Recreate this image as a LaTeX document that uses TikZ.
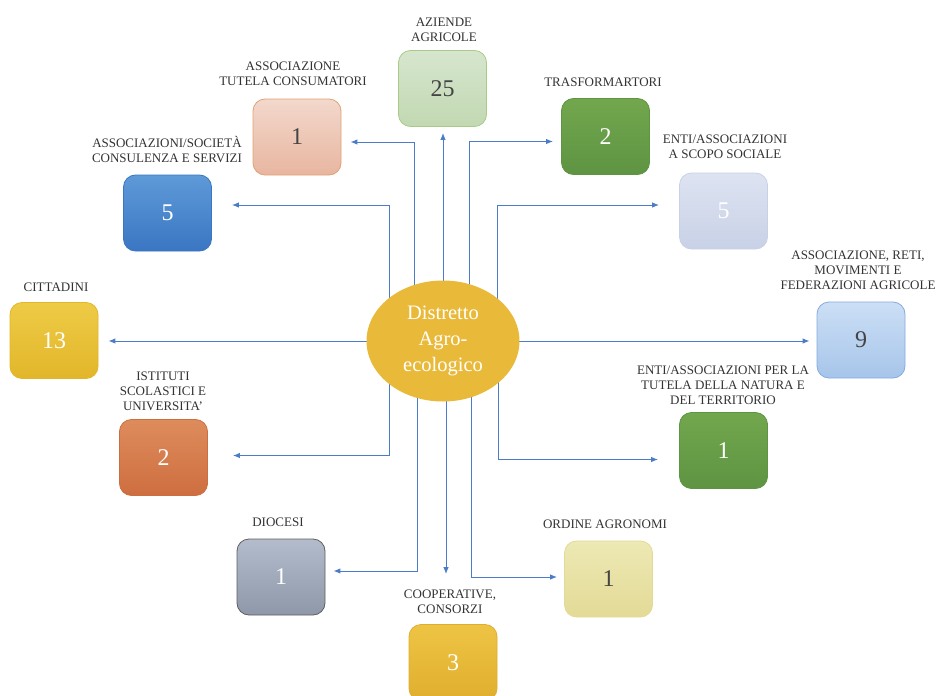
\documentclass[tikz,border=0pt]{standalone}
\usepackage{fontspec}
\setmainfont{Liberation Serif}
\usetikzlibrary{arrows.meta,calc,shapes.geometric}
\pgfdeclarelayer{background}
\pgfsetlayers{background,main}

% palette
\definecolor{hubgold}{HTML}{E9B93A}
\definecolor{connblue}{HTML}{4A7CC8}
\definecolor{labelgray}{HTML}{333333}
\definecolor{numdark}{HTML}{444444}
\definecolor{azTop}{HTML}{D6E6CE}\definecolor{azBot}{HTML}{C2D8B2}\definecolor{azLine}{HTML}{A8CC88}
\definecolor{coTop}{HTML}{F3D8CC}\definecolor{coBot}{HTML}{E8B6A0}\definecolor{coLine}{HTML}{E0A274}
\definecolor{svTop}{HTML}{5E9AD8}\definecolor{svBot}{HTML}{3A76C2}
\definecolor{grTop}{HTML}{72A74E}\definecolor{grBot}{HTML}{5E9442}
\definecolor{soTop}{HTML}{DDE3F1}\definecolor{soBot}{HTML}{C8D1E6}
\definecolor{ciTop}{HTML}{EECB46}\definecolor{ciBot}{HTML}{E2B62A}
\definecolor{isTop}{HTML}{DE8C5C}\definecolor{isBot}{HTML}{CE6E40}
\definecolor{reTop}{HTML}{CCDFF5}\definecolor{reBot}{HTML}{A6C5EA}\definecolor{reLine}{HTML}{84AADE}
\definecolor{diTop}{HTML}{B4BCCC}\definecolor{diBot}{HTML}{8E98A8}\definecolor{diLine}{HTML}{5E5E5E}
\definecolor{cpTop}{HTML}{EEC444}\definecolor{cpBot}{HTML}{E0AE2E}
\definecolor{orTop}{HTML}{EDE9B4}\definecolor{orBot}{HTML}{E3DA96}

\tikzset{
  tile/.style={rounded corners=12pt, minimum width=88pt, minimum height=76pt,
    inner sep=0pt, line width=0.8pt, font=\fontsize{24}{24}\selectfont},
  tag/.style={font=\fontsize{13}{15}\selectfont, text=labelgray, align=center, inner sep=0pt},
  conn/.style={draw=connblue, line width=1pt, -{Latex[length=7pt,width=5.5pt]}},
}

\begin{document}
\begin{tikzpicture}[x=1pt,y=-1pt]
\useasboundingbox (0,0) rectangle (938,696);

% central hub
\node[ellipse, fill=hubgold, minimum width=153pt, minimum height=121pt, inner sep=0pt,
      text=white, align=center, font=\fontsize{20.5}{26}\selectfont] (hub) at (443,341)
      {Distretto\\Agro-\\ecologico};

% member tiles
\node[tile, top color=azTop, bottom color=azBot, draw=azLine, text=numdark] (az) at (442.5,88.5) {25};
\node[tile, top color=coTop, bottom color=coBot, draw=coLine, text=numdark] (cons) at (297,137) {1};
\node[tile, top color=svTop, bottom color=svBot, draw=svBot, text=white] (svc) at (167.5,213) {5};
\node[tile, top color=grTop, bottom color=grBot, draw=grBot, text=white] (trasf) at (605.5,136.5) {2};
\node[tile, top color=soTop, bottom color=soBot, draw=soBot, text=white] (soc) at (723.5,211) {5};
\node[tile, top color=ciTop, bottom color=ciBot, draw=ciBot, text=white] (citt) at (54,340.5) {13};
\node[tile, top color=isTop, bottom color=isBot, draw=isBot, text=white] (ist) at (163.5,457.5) {2};
\node[tile, top color=reTop, bottom color=reBot, draw=reLine, text=numdark] (reti) at (861,340) {9};
\node[tile, top color=grTop, bottom color=grBot, draw=grBot, text=white] (tut) at (723.5,450.5) {1};
\node[tile, top color=diTop, bottom color=diBot, draw=diLine, text=white] (dio) at (281,577) {1};
\node[tile, top color=cpTop, bottom color=cpBot, draw=cpBot, text=white] (coop) at (453,662.5) {3};
\node[tile, top color=orTop, bottom color=orBot, draw=orBot, text=numdark] (ord) at (608.5,579) {1};

% tile captions
\node[tag] (azT) at (444,30) {AZIENDE\\AGRICOLE};
\node[tag] (consT) at (293,73.5) {ASSOCIAZIONE\\TUTELA CONSUMATORI};
\node[tag] (svcT) at (167,149.5) {ASSOCIAZIONI/SOCIETÀ\\CONSULENZA E SERVIZI};
\node[tag] (trasfT) at (603,82) {TRASFORMARTORI};
\node[tag] (socT) at (725,147) {ENTI/ASSOCIAZIONI\\A SCOPO SOCIALE};
\node[tag] (cittT) at (56,287) {CITTADINI};
\node[tag] (istT) at (163,391.5) {ISTITUTI\\SCOLASTICI E\\UNIVERSITA'};
\node[tag] (retiT) at (858,270) {ASSOCIAZIONE, RETI,\\MOVIMENTI E\\FEDERAZIONI AGRICOLE};
\node[tag] (tutT) at (723,385.5) {ENTI/ASSOCIAZIONI PER LA\\TUTELA DELLA NATURA E\\DEL TERRITORIO};
\node[tag] (dioT) at (278,522) {DIOCESI};
\node[tag] (coopT) at (450,601.5) {COOPERATIVE,\\CONSORZI};
\node[tag] (ordT) at (605,524) {ORDINE AGRONOMI};

% connectors, kept beneath the hub
\begin{pgfonlayer}{background}
\draw[conn] ($(hub.center)+(-54,0)$) |- ($(svc.east)+(20,-8)$);
\draw[conn] ($(hub.center)+(-29,0)$) |- ($(cons.east)+(9,5)$);
\draw[conn] (hub.center) -- ($(hub.center |- az.south)+(0,6)$);
\draw[conn] ($(hub.center)+(26,0)$) |- ($(trasf.west)+(-8,5)$);
\draw[conn] ($(hub.center)+(54,0)$) |- ($(soc.west)+(-20,-6)$);
\draw[conn] (hub.center) -- ($(hub.center -| citt.east)+(10,0)$);
\draw[conn] (hub.center) -- ($(hub.center -| reti.west)+(-7,0)$);
\draw[conn] ($(hub.center)+(-54,0)$) |- ($(ist.east)+(25,-2)$);
\draw[conn] ($(hub.center)+(55,0)$) |- ($(tut.west)+(-21,9)$);
\draw[conn] ($(hub.center)+(-26,0)$) |- ($(dio.east)+(8,-6)$);
\draw[conn] ($(hub.center)+(3,0)$) -- ($(hub.center |- coop.north)+(3,-50)$);
\draw[conn] ($(hub.center)+(28,0)$) |- ($(ord.west)+(-7,-2)$);
\end{pgfonlayer}
\end{tikzpicture}
\end{document}
